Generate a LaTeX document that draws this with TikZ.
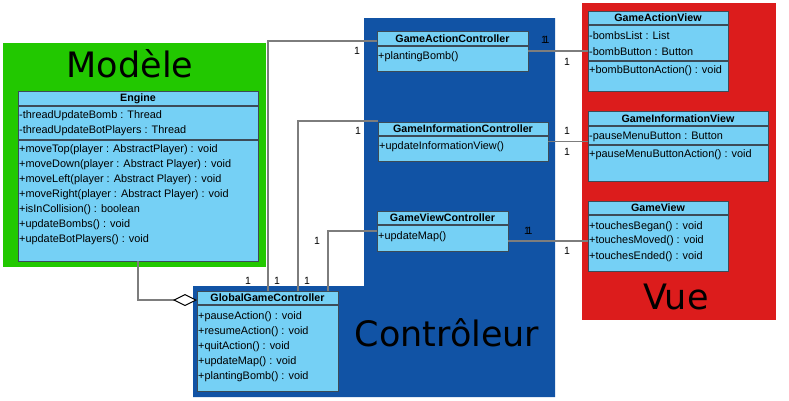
\documentclass[tikz,border=0pt]{standalone}
\usepackage{fontspec}
\setmainfont{Liberation Sans}
\newfontfamily\djvfont{DejaVu Sans}
\usetikzlibrary{arrows.meta}
\definecolor{grn}{RGB}{34,200,0}
\definecolor{blu}{RGB}{17,83,165}
\definecolor{rd}{RGB}{220,28,28}
\definecolor{clsfill}{RGB}{117,208,245}
\definecolor{clsline}{RGB}{60,75,88}
\definecolor{conngray}{RGB}{125,125,125}
\begin{document}
\begin{tikzpicture}[x=1pt,y=-1pt,
 cls/.style={draw=clsline, line width=1pt, fill=clsfill, anchor=north west, inner sep=0, outer sep=0},
 sep/.style={draw=clsline, line width=1.3pt},
 hdr/.style={font=\fontsize{10.7}{12}\selectfont\bfseries, inner sep=0},
 mem/.style={font=\fontsize{10.9}{12}\selectfont, inner sep=0, anchor=west},
 mult/.style={font=\fontsize{10.5}{12}\selectfont, inner sep=0},
 pkg/.style={font=\djvfont\fontsize{35}{40}\selectfont, inner sep=0, anchor=base},
 conn/.style={draw=conngray, line width=1.5pt}
]
\useasboundingbox (0,0) rectangle (789,400);
% package backgrounds
\fill[grn] (3,43) rectangle (266,267);
\fill[blu] (364,18) -- (555,18) -- (555,397) -- (193,397) -- (193,286) -- (364,286) -- cycle;
\fill[rd] (582,3) rectangle (776,320);
\node[pkg] (modele) at (130,77) {Modèle};
\node[pkg] (vue) at (676,309) {Vue};
\node[pkg] (ctrl) at (447,346) {Contrôleur};

% Engine
\node[cls, minimum width=240pt, minimum height=170pt] (engine) at (18,91) {};
\node[hdr] (engineT) at (138,98.5) {Engine};
\draw[sep] (18,106) -- (258,106);
\node[mem] (e1) at (19,116) {-threadUpdateBomb : Thread};
\node[mem] (e2) at (19,131) {-threadUpdateBotPlayers : Thread};
\draw[sep] (18,140) -- (258,140);
\node[mem] (e3) at (19,150) {+moveTop(player : AbstractPlayer) : void};
\node[mem] (e4) at (19,165) {+moveDown(player : Abstract Player) : void};
\node[mem] (e5) at (19,180) {+moveLeft(player : Abstract Player) : void};
\node[mem] (e6) at (19,195) {+moveRight(player : Abstract Player) : void};
\node[mem] (e7) at (19,210) {+isInCollision() : boolean};
\node[mem] (e8) at (19,225) {+updateBombs() : void};
\node[mem] (e9) at (19,240) {+updateBotPlayers() : void};

% GlobalGameController
\node[cls, minimum width=141pt, minimum height=100pt] (ggc) at (197,291) {};
\node[hdr] (ggcT) at (267.5,298) {GlobalGameController};
\draw[sep] (197,305) -- (338,305);
\node[mem] (g1) at (198,317) {+pauseAction() : void};
\node[mem] (g2) at (198,332) {+resumeAction() : void};
\node[mem] (g3) at (198,347) {+quitAction() : void};
\node[mem] (g4) at (198,362) {+updateMap() : void};
\node[mem] (g5) at (198,377) {+plantingBomb() : void};

% GameActionController
\node[cls, minimum width=151pt, minimum height=40pt] (gac) at (377,31) {};
\node[hdr] (gacT) at (452.5,38.5) {GameActionController};
\draw[sep] (377,46) -- (528,46);
\node[mem] (gac1) at (378,57) {+plantingBomb()};

% GameInformationController
\node[cls, minimum width=170pt, minimum height=39pt] (gic) at (378,122) {};
\node[hdr] (gicT) at (463,129) {GameInformationController};
\draw[sep] (378,136) -- (548,136);
\node[mem] (gic1) at (379,147) {+updateInformationView()};

% GameViewController
\node[cls, minimum width=131pt, minimum height=40pt] (gvc) at (377,211) {};
\node[hdr] (gvcT) at (442.5,218) {GameViewController};
\draw[sep] (377,225) -- (508,225);
\node[mem] (gvc1) at (378,237) {+updateMap()};

% GameActionView
\node[cls, minimum width=140pt, minimum height=80pt] (gav) at (588,11) {};
\node[hdr] (gavT) at (658,18) {GameActionView};
\draw[sep] (588,25) -- (728,25);
\node[mem] (gav1) at (589,36) {-bombsList : List};
\node[mem] (gav2) at (589,52) {-bombButton : Button};
\draw[sep] (588,61) -- (728,61);
\node[mem] (gav3) at (589,71) {+bombButtonAction() : void};

% GameInformationView
\node[cls, minimum width=180pt, minimum height=70pt] (giv) at (588,111) {};
\node[hdr] (givT) at (678,118.5) {GameInformationView};
\draw[sep] (588,126) -- (768,126);
\node[mem] (giv1) at (589,137) {-pauseMenuButton : Button};
\draw[sep] (588,145) -- (768,145);
\node[mem] (giv2) at (589,155) {+pauseMenuButtonAction() : void};

% GameView
\node[cls, minimum width=140pt, minimum height=70pt] (gv) at (588,201) {};
\node[hdr] (gvT) at (658,208) {GameView};
\draw[sep] (588,215) -- (728,215);
\node[mem] (gv1) at (589,227) {+touchesBegan() : void};
\node[mem] (gv2) at (589,241) {+touchesMoved() : void};
\node[mem] (gv3) at (589,257) {+touchesEnded() : void};

% connectors
\draw[conn] ([yshift=-10pt]gac.north west) -| ([xshift=71pt]ggc.north west);
\draw[conn] ([yshift=1pt]gic.north west) -| ([xshift=101pt]ggc.north west);
\draw[conn] ([yshift=-20pt]gvc.north west) -| ([xshift=131pt]ggc.north west);
\draw[conn] ([yshift=-20pt]gac.north east) coordinate (a1) -- (a1 -| gav.west);
\draw[conn] (gic.east) -- (gic.east -| giv.west);
\draw[conn] ([yshift=-30pt]gvc.north east) coordinate (a3) -- (a3 -| gv.west);
\draw[conn, -{Diamond[fill=white, color=black, length=24pt, width=12pt, line width=1pt]}]
  ([xshift=120pt]engine.south west) |- ([yshift=-9pt]ggc.north west);

% multiplicities
\node[mult] (m1) at (357,51) {1};
\node[mult] (m2) at (248,281) {1};
\node[mult] (m3) at (358,131) {1};
\node[mult] (m4) at (277,281) {1};
\node[mult] (m5) at (317,241) {1};
\node[mult] (m6) at (307,281) {1};
\node[mult] (m7a) at (544,40) {1};
\node[mult] (m7b) at (546.5,40) {1};
\node[mult] (m8) at (567,62) {1};
\node[mult] (m9) at (567,131) {1};
\node[mult] (m10) at (567,152) {1};
\node[mult] (m11a) at (527,231) {1};
\node[mult] (m11b) at (529.5,231) {1};
\node[mult] (m12) at (567,251) {1};
\end{tikzpicture}
\end{document}
